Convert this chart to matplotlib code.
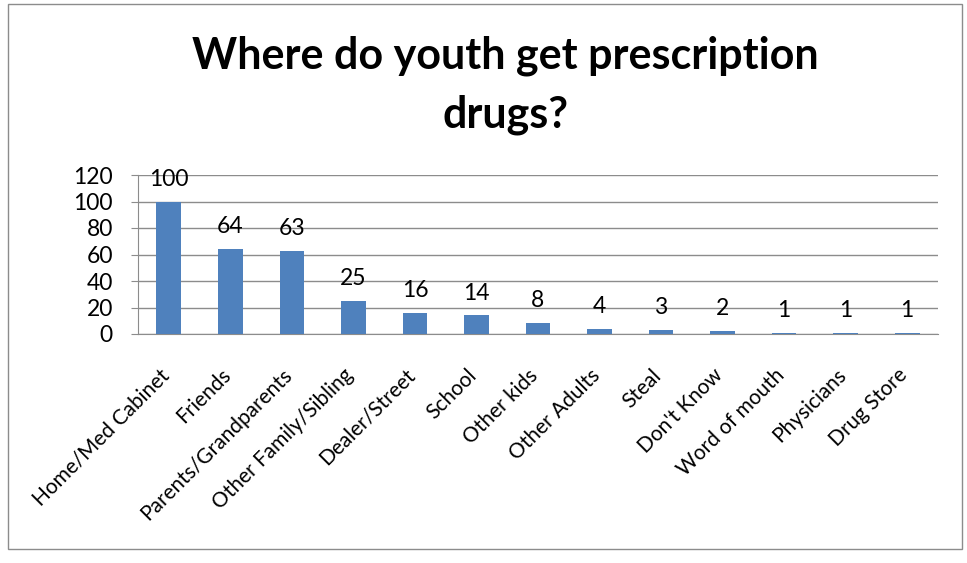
import numpy as np
import matplotlib.pyplot as plt
from matplotlib.patches import Rectangle
from matplotlib.transforms import ScaledTranslation

plt.rcParams['font.family'] = ['Lato', 'DejaVu Sans']

cats = ["Home/Med Cabinet", "Friends", "Parents/Grandparents", "Other Family/Sibling",
        "Dealer/Street", "School", "Other kids", "Other Adults", "Steal", "Don't Know",
        "Word of mouth", "Physicians", "Drug Store"]
vals = [100, 64, 63, 25, 16, 14, 8, 4, 3, 2, 1, 1, 1]

fig = plt.figure(figsize=(9.67, 5.63), dpi=100)
fig.patches.append(Rectangle((8/967, 1-549/563), 954/967, 545/563, transform=fig.transFigure,
                             fill=False, edgecolor='#8c8c8c', linewidth=1))
ax = fig.add_axes([138/967, 1-334/563, 800/967, 159/563])

x = np.arange(len(cats))
ax.bar(x, vals, width=0.4, color='#4F81BD', zorder=3)
for xi, v in zip(x, vals):
    ax.text(xi, v + 9, str(v), ha='center', va='bottom', fontsize=16.5)

ax.set_xlim(-0.5, len(cats) - 0.5)
ax.set_ylim(0, 120)
ax.set_yticks(np.arange(0, 121, 20))
ax.yaxis.grid(True, color='#8c8c8c', linewidth=1, zorder=0)
ax.tick_params(axis='y', labelsize=16.5, length=5, color='#8c8c8c', pad=13)
ax.tick_params(axis='x', length=0, labelsize=15, pad=8)
ax.set_xticks(x)
ax.set_xticklabels(cats, rotation=45, ha='right', rotation_mode='anchor')
shift = ScaledTranslation(-10/100, -20/100, fig.dpi_scale_trans)
for lab in ax.get_xticklabels():
    lab.set_transform(lab.get_transform() + shift)
for s in ['top', 'right']:
    ax.spines[s].set_visible(False)
for s in ['left', 'bottom']:
    ax.spines[s].set_color('#8c8c8c')

fig.text(505/967, 1-85/563, "Where do youth get prescription\ndrugs?", ha='center', va='center',
         fontsize=31, fontweight='bold', linespacing=1.55)

fig.savefig('out.png', dpi=100)
